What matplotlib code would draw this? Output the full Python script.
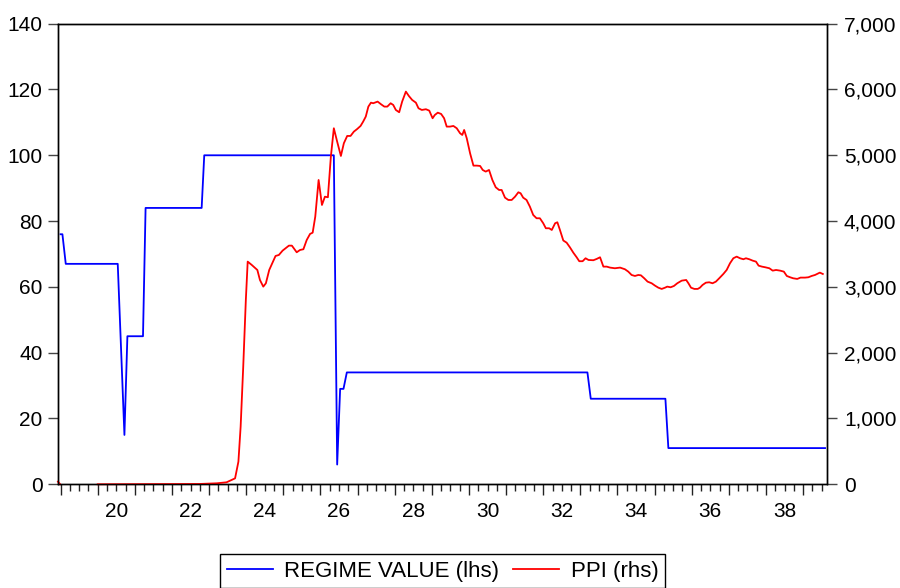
import numpy as np
import matplotlib.pyplot as plt
from matplotlib.ticker import FuncFormatter

# ----------------------------------------------------------------------
#  Data
# ----------------------------------------------------------------------

regime_t = [19.00, 19.05, 19.14, 20.54, 20.72, 20.80, 21.22, 21.29, 22.80, 22.87,
            26.36, 26.45, 26.53, 26.62, 26.71, 33.19, 33.28, 35.29, 35.37, 39.59]
regime_v = [76, 76, 67, 67, 15, 45, 45, 84, 84, 100,
            100, 6, 29, 29, 34, 34, 26, 26, 11, 11]

ppi_t = [18.93, 18.99, np.nan, 20.00, 22.75, 23.21, 23.47, 23.70, 23.79, 23.85,
         23.92, 23.99, 24.04, 24.15, 24.30, 24.37, 24.46, 24.53, 24.62, 24.79,
         24.88, 24.98, 25.06, 25.15, 25.23, 25.36, 25.45, 25.54, 25.63, 25.72,
         25.79, 25.86, 25.95, 26.04, 26.12, 26.20, 26.28, 26.36, 26.45, 26.55,
         26.63, 26.72, 26.81, 26.90, 26.99, 27.08, 27.15, 27.22, 27.29, 27.36,
         27.42, 27.54, 27.63, 27.72, 27.80, 27.89, 27.96, 28.03, 28.12, 28.20,
         28.30, 28.38, 28.47, 28.57, 28.64, 28.73, 28.84, 28.93, 29.02, 29.08,
         29.16, 29.25, 29.33, 29.40, 29.49, 29.58, 29.67, 29.76, 29.82, 29.87,
         29.94, 30.03, 30.12, 30.21, 30.30, 30.37, 30.45, 30.54, 30.63, 30.72,
         30.81, 30.88, 30.97, 31.06, 31.15, 31.24, 31.33, 31.39, 31.46, 31.55,
         31.64, 31.73, 31.82, 31.91, 32.00, 32.07, 32.16, 32.23, 32.32, 32.38,
         32.45, 32.54, 32.63, 32.72, 32.81, 32.90, 32.97, 33.06, 33.14, 33.22,
         33.35, 33.44, 33.53, 33.62, 33.71, 33.80, 33.93, 34.07, 34.20, 34.29,
         34.38, 34.47, 34.56, 34.63, 34.72, 34.81, 34.92, 35.01, 35.10, 35.19,
         35.28, 35.34, 35.43, 35.52, 35.61, 35.73, 35.85, 35.91, 35.98, 36.07,
         36.16, 36.22, 36.29, 36.38, 36.47, 36.56, 36.65, 36.74, 36.85, 36.94,
         37.03, 37.12, 37.21, 37.30, 37.39, 37.46, 37.55, 37.64, 37.73, 37.80,
         37.89, 37.98, 38.09, 38.18, 38.27, 38.38, 38.48, 38.56, 38.65, 38.73,
         38.84, 38.93, 39.05, 39.14, 39.23, 39.32, 39.41, 39.45, 39.53]
ppi_v = [40, 0, np.nan, 0, 5, 15, 30, 90, 344, 876,
         1788, 2801, 3384, 3333, 3257, 3105, 3004, 3055, 3257, 3470,
         3485, 3551, 3587, 3627, 3627, 3526, 3561, 3572, 3713, 3805,
         3824, 4068, 4625, 4245, 4371, 4362, 4979, 5411, 5207, 4990,
         5183, 5294, 5294, 5360, 5400, 5446, 5512, 5588, 5740, 5800,
         5791, 5816, 5776, 5740, 5740, 5791, 5765, 5689, 5654, 5816,
         5968, 5902, 5841, 5800, 5715, 5689, 5700, 5679, 5563, 5613,
         5648, 5628, 5563, 5436, 5436, 5446, 5411, 5335, 5309, 5385,
         5258, 5030, 4843, 4843, 4838, 4777, 4752, 4777, 4625, 4514,
         4473, 4473, 4356, 4321, 4321, 4371, 4438, 4423, 4356, 4321,
         4220, 4093, 4043, 4043, 3967, 3891, 3891, 3865, 3967, 3982,
         3865, 3705, 3672, 3600, 3520, 3450, 3390, 3390, 3435, 3409,
         3405, 3425, 3450, 3308, 3308, 3293, 3283, 3293, 3268, 3232,
         3181, 3166, 3181, 3176, 3131, 3080, 3055, 3019, 2988, 2969,
         2988, 3004, 2994, 3014, 3055, 3095, 3105, 3055, 2988, 2969,
         2969, 2988, 3029, 3064, 3070, 3055, 3080, 3131, 3196, 3257,
         3359, 3435, 3460, 3435, 3420, 3435, 3420, 3399, 3384, 3323,
         3308, 3298, 3283, 3247, 3257, 3247, 3232, 3166, 3146, 3131,
         3121, 3141, 3141, 3146, 3166, 3181, 3207, 3217, 3196]

year_labels = ['20', '22', '24', '26', '28', '30', '32', '34', '36', '38']

# ----------------------------------------------------------------------
#  Plot
# ----------------------------------------------------------------------

plt.rcParams['font.family'] = ['Liberation Sans', 'DejaVu Sans']
fs = 15
tick_col = '#444444'

fig = plt.figure(figsize=(9, 5.88), dpi=100)
ax = fig.add_axes([0.0644, 0.1764, 0.8548, 0.7833])
ax2 = ax.twinx()

l1, = ax.plot(regime_t, regime_v, color='#0000ff', lw=1.3, label='REGIME VALUE (lhs)')
l2, = ax2.plot(ppi_t, ppi_v, color='#ff0000', lw=1.3, label='PPI (rhs)', clip_on=False)

ax.set_xlim(18.93, 39.65)
ax.set_ylim(0, 140)
ax2.set_ylim(0, 7000)
ax.set_yticks(np.arange(0, 141, 20))
ax2.set_yticks(np.arange(0, 7001, 1000))
ax2.yaxis.set_major_formatter(FuncFormatter(lambda v, p: f'{int(v):,}'))

# year boundaries as major ticks, quarters as minor ticks
ax.set_xticks(np.arange(19, 40), labels=[''] * 21)
ax.set_xticks(np.arange(19, 39.7, 0.25), minor=True)
ax.tick_params(axis='x', which='major', direction='out', length=8, width=1, color='#222222')
ax.tick_params(axis='x', which='minor', direction='out', length=5, width=1, color='#222222')
ax.tick_params(axis='y', direction='out', length=7, width=1, color=tick_col,
               labelsize=fs, pad=4)
ax2.tick_params(axis='y', direction='out', length=7, width=1, color=tick_col,
                labelsize=fs, pad=5)

# labels sit in the middle of each year
sec = ax.secondary_xaxis('bottom')
sec.set_xticks(np.arange(20.5, 39, 2), labels=year_labels)
sec.tick_params(length=0, labelsize=fs, pad=13)
sec.spines['bottom'].set_visible(False)

for a in (ax, ax2):
    for s in a.spines.values():
        s.set_linewidth(1)
        s.set_color('black')

leg = fig.legend(handles=[l1, l2], loc='upper center', ncol=2,
                 bbox_to_anchor=(442.5 / 900, 1 - 554 / 588), fontsize=16,
                 frameon=True, fancybox=False, edgecolor='black', framealpha=1,
                 borderpad=0.3, borderaxespad=0, handlelength=2.1,
                 handletextpad=0.5, columnspacing=0.6)
leg.get_frame().set_linewidth(1)

fig.savefig('out.png', dpi=100)
